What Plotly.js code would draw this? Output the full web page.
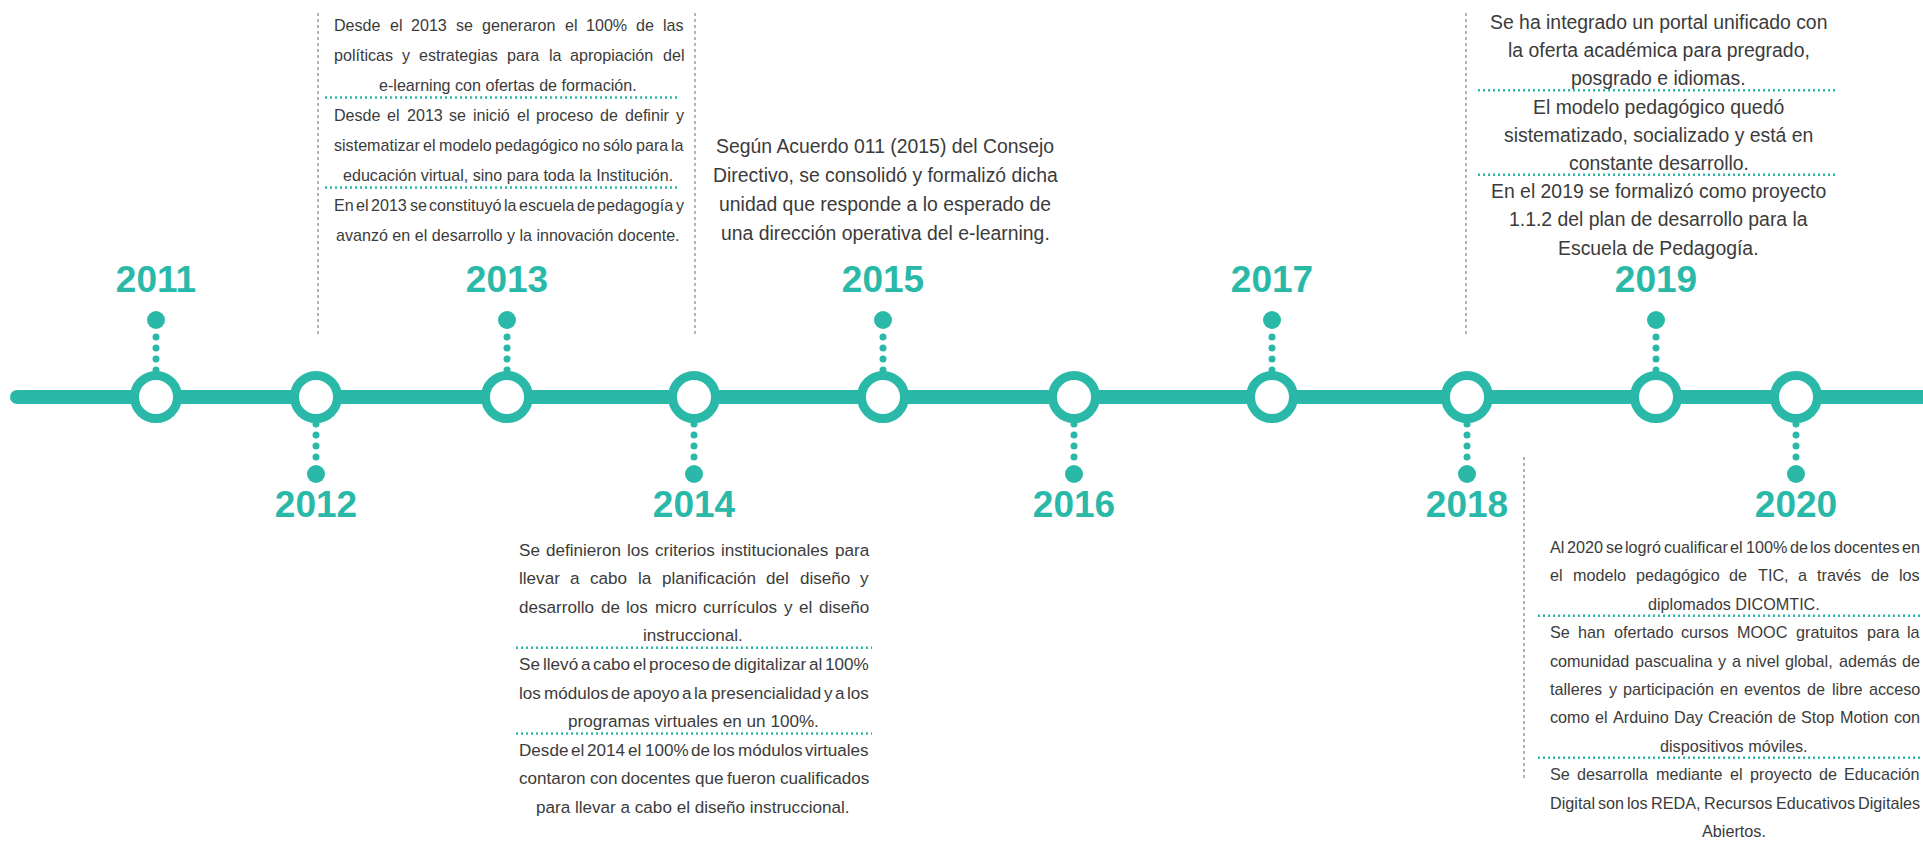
<!DOCTYPE html>
<html>
<head>
<meta charset="utf-8">
<script src="https://cdn.plot.ly/plotly-3.0.1.min.js"></script>
<style>html,body{margin:0;padding:0;background:#fff;overflow:hidden}#chart{width:1923px;height:841px}</style>
</head>
<body>
<div id="chart"></div>
<script>
// ---------------- DATA ----------------
const years = [2011, 2012, 2013, 2014, 2015, 2016, 2017, 2018, 2019, 2020];
const sides = ['up', 'down', 'up', 'down', 'up', 'down', 'up', 'down', 'up', 'down'];

const notes2013 = [
  ["Desde el 2013 se generaron el 100% de las",
   "políticas y estrategias para la apropiación del",
   "e-learning con ofertas de formación."],
  ["Desde el 2013 se inició el proceso de definir y",
   "sistematizar el modelo pedagógico no sólo para la",
   "educación virtual, sino para toda la Institución."],
  ["En el 2013 se constituyó la escuela de pedagogía y",
   "avanzó en el desarrollo y la innovación docente."]
];
const notes2014 = [
  ["Se definieron los criterios institucionales para",
   "llevar a cabo la planificación del diseño y",
   "desarrollo de los micro currículos y el diseño",
   "instruccional."],
  ["Se llevó a cabo el proceso de digitalizar al 100%",
   "los módulos de apoyo a la presencialidad y a los",
   "programas virtuales en un 100%."],
  ["Desde el 2014 el 100% de los módulos virtuales",
   "contaron con docentes que fueron cualificados",
   "para llevar a cabo el diseño instruccional."]
];
const notes2015 = [
  ["Según Acuerdo 011 (2015) del Consejo",
   "Directivo, se consolidó y formalizó dicha",
   "unidad que responde a lo esperado de",
   "una dirección operativa del e-learning."]
];
const notes2019 = [
  ["Se ha integrado un portal unificado con",
   "la oferta académica para pregrado,",
   "posgrado e idiomas."],
  ["El modelo pedagógico quedó",
   "sistematizado, socializado y está en",
   "constante desarrollo."],
  ["En el 2019 se formalizó como proyecto",
   "1.1.2 del plan de desarrollo para la",
   "Escuela de Pedagogía."]
];
const notes2020 = [
  ["Al 2020 se logró cualificar el 100% de los docentes en",
   "el modelo pedagógico de TIC, a través de los",
   "diplomados DICOMTIC."],
  ["Se han ofertado cursos MOOC gratuitos para la",
   "comunidad pascualina y a nivel global, además de",
   "talleres y participación en eventos de libre acceso",
   "como el Arduino Day Creación de Stop Motion con",
   "dispositivos móviles."],
  ["Se desarrolla mediante el proyecto de Educación",
   "Digital son los REDA, Recursos Educativos Digitales",
   "Abiertos."]
];

// ---------------- LAYOUT / STYLE ----------------
const TEAL = '#2ab9a8';
const TXT = '#3b3b3b';
const GRAY = '#b4b4b4';
const FONT = "'Liberation Sans', Arial, sans-serif";
const W = 1923, H = 841;
const axisY = 397;
const nodeX = [156, 316, 507, 694, 883, 1074, 1272, 1467, 1656, 1796];

const blocks = [
  {paras: notes2013, x0: 333, x1: 683, top: 25, lh: 30, fs: 22, justify: true, sepX0: 325, sepX1: 680},
  {paras: notes2014, x0: 518, x1: 868, top: 550, lh: 28.6, fs: 22, justify: true, sepX0: 516, sepX1: 872},
  {paras: notes2015, x0: 712, x1: 1058, top: 146, lh: 29, fs: 24, justify: false},
  {paras: notes2019, x0: 1489, x1: 1828, top: 22, lh: 28.2, fs: 24, justify: false, sepX0: 1478, sepX1: 1835},
  {paras: notes2020, x0: 1549, x1: 1919, top: 547, lh: 28.4, fs: 22, justify: true, sepX0: 1538, sepX1: 1923}
];

const vLines = [
  [318, 13, 334], [695, 13, 334], [1466, 13, 335], [1524, 457, 779]
];

// ---------------- BUILD ----------------
const ctx = document.createElement('canvas').getContext('2d');
function tw(s, fs) { ctx.font = fs + 'px ' + FONT; return ctx.measureText(s).width; }
const TIGHT = 0.55; // minimum word gap of justified lines, as a share of a normal space

function ann(x, y, text, fs, anchor) {
  return {xref: 'x', yref: 'y', x: x, y: y, text: text, showarrow: false,
          xanchor: anchor, yanchor: 'middle', borderpad: 0,
          font: {family: FONT, size: fs, color: TXT}};
}

// font size of a block: largest size (<= cfg.fs) at which every line fits the block width
function blockFont(cfg) {
  const width = cfg.x1 - cfg.x0;
  let fs = cfg.fs;
  cfg.paras.forEach(p => p.forEach((line, li) => {
    let nat;
    if (cfg.justify && li < p.length - 1) {
      const words = line.split(' ');
      nat = words.reduce((a, w) => a + tw(w, 100), 0) + TIGHT * tw(' ', 100) * (words.length - 1);
    } else {
      nat = tw(line, 100);
    }
    fs = Math.min(fs, 100 * width / nat);
  }));
  return Math.floor(fs * 10) / 10;
}

function justifyLine(line, cfg, y, fs) {
  const words = line.split(' ');
  const width = cfg.x1 - cfg.x0;
  const ws = words.map(w => tw(w, fs));
  const sum = ws.reduce((a, b) => a + b, 0);
  const gap = (width - sum) / Math.max(1, words.length - 1);
  const out = [];
  let x = cfg.x0;
  words.forEach((w, i) => { out.push(ann(x, y, w, fs, 'left')); x += ws[i] + gap; });
  return out;
}

const annotations = [];
const shapes = [];

blocks.forEach(cfg => {
  const fs = blockFont(cfg);
  let y = cfg.top;
  cfg.paras.forEach((para, pi) => {
    para.forEach((line, li) => {
      const last = li === para.length - 1;
      if (cfg.justify && !last) annotations.push(...justifyLine(line, cfg, y, fs));
      else annotations.push(ann((cfg.x0 + cfg.x1) / 2, y, line, fs, 'center'));
      y += cfg.lh;
    });
    if (pi < cfg.paras.length - 1) {
      const sy = y - cfg.lh + cfg.lh * 0.42;
      shapes.push({type: 'line', xref: 'x', yref: 'y', x0: cfg.sepX0, x1: cfg.sepX1, y0: sy, y1: sy,
                   line: {color: TEAL, width: 2.5, dash: '2px,3px'}});
    }
  });
});

vLines.forEach(v => shapes.push({type: 'line', xref: 'x', yref: 'y', x0: v[0], x1: v[0], y0: v[1], y1: v[2],
                                 line: {color: GRAY, width: 2, dash: 'dot'}}));

// connectors
const smallOff = [27, 38, 49, 60];
const bigOff = 77;
const sx = [], sy = [], bx = [], by = [], lx = [], ly = [];
years.forEach((yr, i) => {
  const s = sides[i] === 'up' ? -1 : 1;
  smallOff.forEach(o => { sx.push(nodeX[i]); sy.push(axisY + s * o); });
  bx.push(nodeX[i]); by.push(axisY + s * bigOff);
  lx.push(nodeX[i]); ly.push(sides[i] === 'up' ? 283 : 508);
});

const traces = [
  {x: [17, W + 5], y: [axisY, axisY], mode: 'lines', line: {color: TEAL, width: 14}, hoverinfo: 'skip'},
  {x: [17], y: [axisY], mode: 'markers', marker: {color: TEAL, size: 14}, hoverinfo: 'skip'},
  {x: sx, y: sy, mode: 'markers', marker: {color: TEAL, size: 7}, hoverinfo: 'skip'},
  {x: bx, y: by, mode: 'markers', marker: {color: TEAL, size: 18}, hoverinfo: 'skip'},
  {x: nodeX, y: years.map(() => axisY), mode: 'markers',
   marker: {color: '#ffffff', size: 43, line: {color: TEAL, width: 9}}, hoverinfo: 'skip'},
  {x: lx, y: ly, mode: 'text', text: years.map(String), textposition: 'middle center',
   textfont: {family: FONT, size: 37, color: TEAL, weight: 'bold'}, hoverinfo: 'skip'}
];

const layout = {
  width: W, height: H,
  margin: {l: 0, r: 0, t: 0, b: 0, pad: 0},
  paper_bgcolor: '#ffffff', plot_bgcolor: '#ffffff',
  showlegend: false, hovermode: false,
  xaxis: {range: [0, W], visible: false, fixedrange: true},
  yaxis: {range: [H, 0], visible: false, fixedrange: true},
  annotations: annotations,
  shapes: shapes
};

Plotly.newPlot('chart', traces, layout, {staticPlot: true, displayModeBar: false});
</script>
</body>
</html>
